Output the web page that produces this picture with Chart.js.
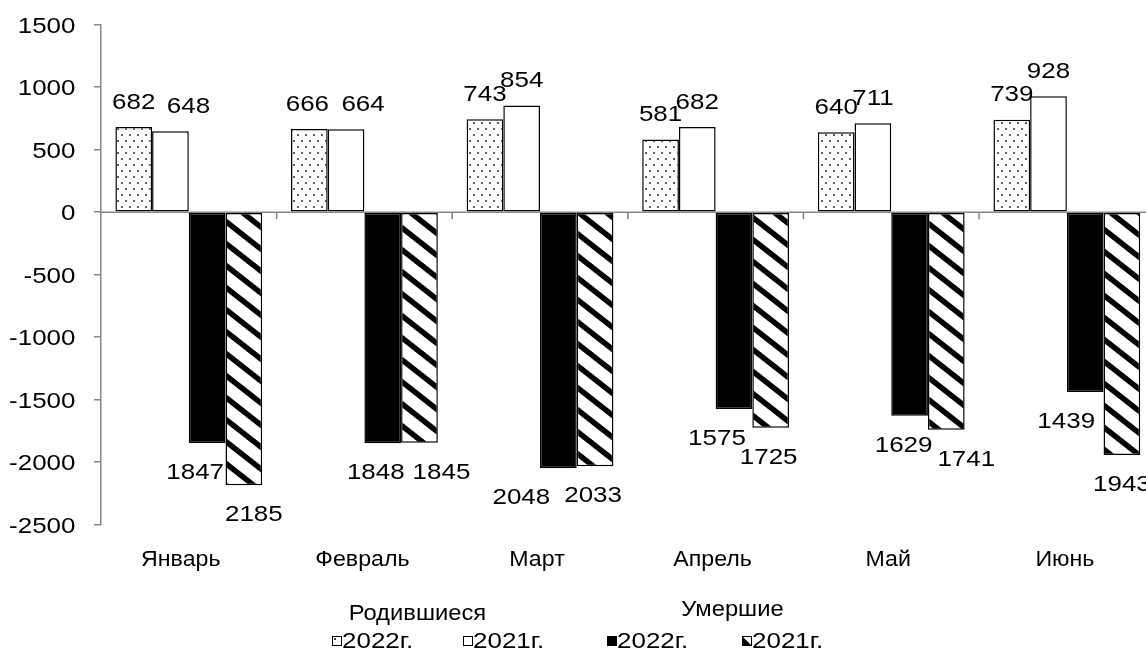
<!DOCTYPE html>
<html><head><meta charset="utf-8">
<script src="https://cdn.jsdelivr.net/npm/chart.js@4.4.1/dist/chart.umd.min.js"></script>
<style>
html,body{margin:0;padding:0;overflow:hidden;background:#fff;width:1146px;height:659px}
#wrap{position:absolute;left:0;top:0;width:1160px;height:659px}
</style>
</head><body><div id="wrap"><canvas id="c" width="1160" height="659"></canvas></div>
<script>
const categories = ['Январь','Февраль','Март','Апрель','Май','Июнь'];
const births2022 = [682, 666, 743, 581, 640, 739];
const births2021 = [648, 664, 854, 682, 711, 928];
const deaths2022 = [-1847, -1848, -2048, -1575, -1629, -1439];
const deaths2021 = [-2185, -1845, -2033, -1725, -1741, -1943];
const seriesLabels = ['2022г.', '2021г.', '2022г.', '2021г.'];
const groupLabels = ['Родившиеся', 'Умершие'];
const yTicks = [1500, 1000, 500, 0, -500, -1000, -1500, -2000, -2500];

// label nudges (style only, px)
const labelNudge = [
  [0,-2,0,0,0,0],
  [18,17,0,0,0,0],
  [-12,-7,-37,-17,-6,-19],
  [10,22,-2,-2,20,0]
];
const catNudge = [-8,-2,-3,-3,-3,-2];

const FAMILY = '"Liberation Sans", Arial, sans-serif';
const AXIS = '#868686';

function stretchText(ctx, text, x, y, align, size, sx){
  ctx.save();
  ctx.font = size + 'px ' + FAMILY;
  ctx.textAlign = align; ctx.textBaseline = 'alphabetic';
  ctx.translate(x, y); ctx.scale(sx, 1);
  ctx.fillText(text, 0, 0);
  ctx.restore();
}

function dotPattern(){
  const w=8, h=12;
  const c=document.createElement('canvas'); c.width=w; c.height=h;
  const g=c.getContext('2d');
  g.fillStyle='#fff'; g.fillRect(0,0,w,h);
  g.fillStyle='#3c3c3c';
  g.beginPath(); g.arc(2,3,1.1,0,Math.PI*2); g.fill();
  g.beginPath(); g.arc(6,9,1.1,0,Math.PI*2); g.fill();
  return g.createPattern(c,'repeat');
}
function stripePattern(){
  const w=28, h=22;
  const c=document.createElement('canvas'); c.width=w; c.height=h;
  const g=c.getContext('2d');
  g.fillStyle='#fff'; g.fillRect(0,0,w,h);
  g.strokeStyle='#000'; g.lineWidth=5.5;
  for(const k of [-1,0,1]){
    g.beginPath(); g.moveTo(k*w - w*0.2, -h*0.2); g.lineTo(k*w + w*1.2, h*1.2); g.stroke();
  }
  return g.createPattern(c,'repeat');
}
const fills=[dotPattern(),'#ffffff','#000000',stripePattern()];

const NUM_SIZE=22, NUM_SX=1.18;

const labelsPlugin={
  id:'vlabels',
  afterDatasetsDraw(chart){
    const ctx=chart.ctx;
    ctx.fillStyle='#000';
    chart.data.datasets.forEach((ds,di)=>{
      const meta=chart.getDatasetMeta(di);
      meta.data.forEach((bar,i)=>{
        const v=ds.data[i];
        const y = v>=0 ? bar.y-26.3+7.9 : bar.y+28+7.9;
        stretchText(ctx, String(Math.abs(v)), bar.x+labelNudge[di][i], y, 'center', NUM_SIZE, NUM_SX);
      });
    });
  }
};
const axisPlugin={
  id:'axesDraw',
  afterDatasetsDraw(chart){
    const ctx=chart.ctx, xs=chart.scales.x, ys=chart.scales.y;
    const y0=ys.getPixelForValue(0);
    ctx.save(); ctx.strokeStyle=AXIS; ctx.lineWidth=1.5;
    ctx.beginPath(); ctx.moveTo(chart.chartArea.left,y0); ctx.lineTo(chart.chartArea.right,y0); ctx.stroke();
    const n=categories.length;
    for(let i=1;i<n;i++){
      const x=(xs.getPixelForTick(i-1)+xs.getPixelForTick(i))/2;
      ctx.beginPath(); ctx.moveTo(x,y0); ctx.lineTo(x,y0+7); ctx.stroke();
    }
    ctx.restore();
    ctx.fillStyle='#000';
    yTicks.forEach(v=>{
      stretchText(ctx, String(v), 75.5, ys.getPixelForValue(v)+7.9, 'right', NUM_SIZE, NUM_SX);
    });
    categories.forEach((c,i)=>{
      stretchText(ctx, c, xs.getPixelForTick(i)+catNudge[i], 566, 'center', 22.5, 1.03);
    });
  }
};
const legendPlugin={
  id:'customLegend',
  afterDraw(chart){
    const ctx=chart.ctx;
    ctx.fillStyle='#000';
    stretchText(ctx, groupLabels[0], 417.4, 620, 'center', 22, 1.08);
    stretchText(ctx, groupLabels[1], 732.5, 616, 'center', 22, 1.08);
    const xs=[332,463,607,742];
    seriesLabels.forEach((t,i)=>{
      const x=xs[i], y=636, s=9.5;
      ctx.save();
      ctx.fillStyle='#fff'; ctx.fillRect(x,y,s,s);
      if(i===0){ ctx.fillStyle='#444'; ctx.fillRect(x+2,y+2,2,2); }
      if(i===2){ ctx.fillStyle='#000'; ctx.fillRect(x,y,s,s); }
      if(i===3){ ctx.fillStyle='#000'; ctx.beginPath(); ctx.moveTo(x,y); ctx.lineTo(x+s,y+s); ctx.lineTo(x,y+s); ctx.closePath(); ctx.fill(); }
      ctx.strokeStyle='#000'; ctx.lineWidth=1; ctx.strokeRect(x+0.5,y+0.5,s-0.5,s-0.5);
      ctx.restore();
      ctx.fillStyle='#000';
      stretchText(ctx, t, x+10, 648.3, 'left', 22, 1.18);
    });
  }
};

const datasetValues=[births2022,births2021,deaths2022,deaths2021];
new Chart(document.getElementById('c'),{
  type:'bar',
  data:{
    labels:categories,
    datasets:datasetValues.map((d,i)=>({
      label:seriesLabels[i], data:d, backgroundColor:fills[i],
      borderColor:'#000', borderWidth:1.5, borderSkipped:false,
      categoryPercentage:0.836, barPercentage:1.0
    }))
  },
  options:{
    responsive:false, animation:false,
    layout:{padding:{top:24.7,right:5.35,left:0,bottom:0}},
    plugins:{legend:{display:false},tooltip:{enabled:false}},
    scales:{
      x:{
        grid:{display:false,drawTicks:false}, border:{display:false},
        ticks:{display:false},
        afterFit(s){ s.height=659-524.7; }
      },
      y:{
        min:-2500,max:1500,
        afterBuildTicks(s){ s.ticks=yTicks.map(v=>({value:v})); },
        grid:{drawOnChartArea:false,drawTicks:true,tickLength:7,tickColor:AXIS,lineWidth:1.5},
        border:{display:true,color:AXIS,width:1.5},
        ticks:{display:false},
        afterFit(s){ s.width=101; }
      }
    }
  },
  plugins:[labelsPlugin,axisPlugin,legendPlugin]
});
</script></body></html>
